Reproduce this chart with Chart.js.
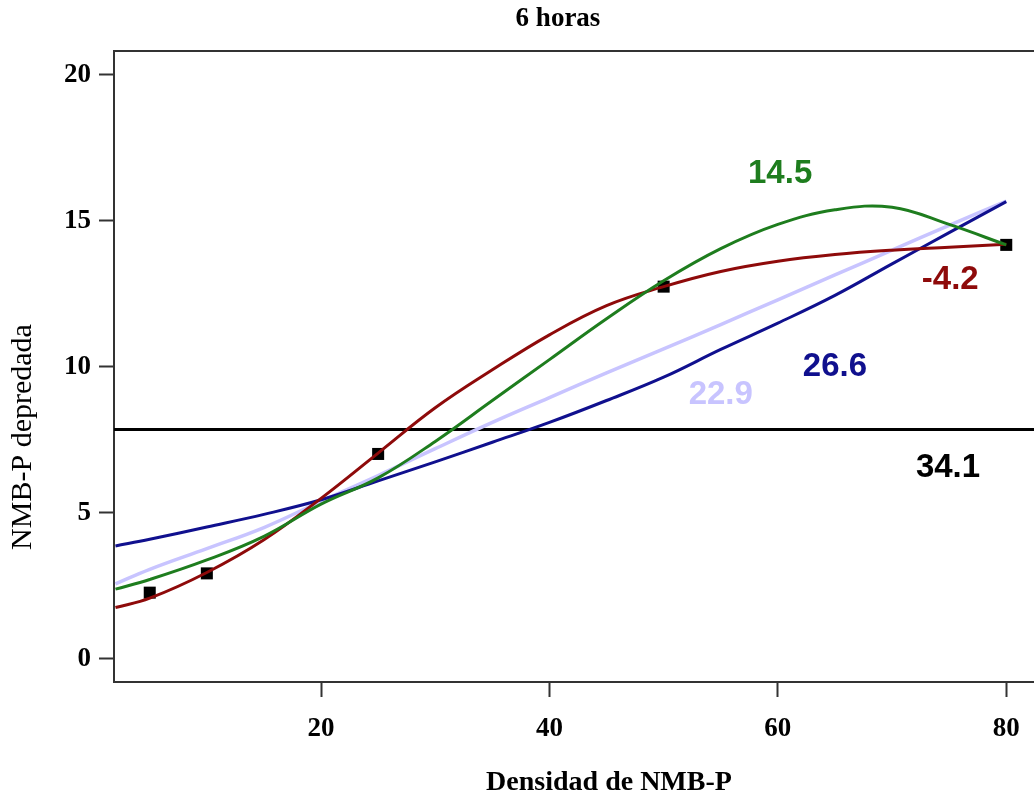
<!DOCTYPE html>
<html>
<head>
<meta charset="utf-8">
<script src="https://cdn.jsdelivr.net/npm/chart.js@4.4.1/dist/chart.umd.min.js"></script>
<style>
html,body{margin:0;padding:0;background:#fff;overflow:hidden}
canvas{display:block}
</style>
</head>
<body>
<canvas id="c" width="1034" height="799"></canvas>
<script>
// ---- data ----
const densidad    = [2, 5, 10, 15, 20, 25, 30, 35, 40, 45, 50, 55, 60, 65, 70, 75, 80];
const ajusteVerde = [2.39, 2.72, 3.39, 4.2, 5.3, 6.2, 7.45, 8.85, 10.25, 11.65, 12.95, 14.05, 14.88, 15.38, 15.47, 14.88, 14.18];
const ajusteRojo  = [1.76, 2.08, 2.96, 4.08, 5.5, 7.05, 8.6, 9.9, 11.1, 12.1, 12.75, 13.27, 13.62, 13.85, 14.0, 14.1, 14.2];
const ajusteAzul  = [3.87, 4.1, 4.52, 4.95, 5.45, 6.1, 6.75, 7.42, 8.1, 8.85, 9.65, 10.6, 11.5, 12.45, 13.53, 14.6, 15.66];
const ajusteLila  = [2.57, 3.07, 3.78, 4.5, 5.4, 6.28, 7.2, 8.1, 8.95, 9.8, 10.62, 11.45, 12.3, 13.15, 14.0, 14.85, 15.68];
const obsX = [5, 10, 25, 50, 80];
const obsY = [2.27, 2.93, 7.02, 12.75, 14.18];
const mediaY = 7.86;
const xTicks = [20, 40, 60, 80];
const yTicks = [0, 5, 10, 15, 20];
const etiquetas = ['14.5', '-4.2', '26.6', '22.9', '34.1'];
const titulo = '6 horas';
const tituloX = 'Densidad de NMB-P';
const tituloY = 'NMB-P depredada';

// ---- axis bounds ----
const X_MIN = 1.87, X_MAX = 82.43;
const Y_MIN = -0.79, Y_MAX = 20.82;

const pts = (xs, ys) => xs.map((x, i) => ({x: x, y: ys[i]}));
const SERIF = '"Liberation Serif", "Times New Roman", "DejaVu Serif", serif';
const SANS = '"Liberation Sans", Arial, "DejaVu Sans", sans-serif';

const C_GREEN = '#1e7d1e', C_RED = '#8e0a0a', C_BLUE = '#10108e', C_LILA = '#c8c4ff';

// label anchors in data coordinates
const labelStyle = [
  {x: 60.2, y: 16.61, color: C_GREEN},
  {x: 75.1, y: 12.98, color: C_RED},
  {x: 65.0, y: 9.99,  color: C_BLUE},
  {x: 55.0, y: 9.04,  color: C_LILA},
  {x: 74.9, y: 6.54,  color: '#000'}
];

const lineDs = (label, ys, color, w) => ({
  label: label, data: pts(densidad, ys), showLine: true, borderColor: color,
  borderWidth: w, pointRadius: 0, tension: 0.4, fill: false
});

const textLayer = {
  id: 'textLayer',
  afterDatasetsDraw(chart) {
    const {ctx, scales: {x, y}} = chart;
    ctx.save();
    ctx.font = 'bold 33px ' + SANS;
    ctx.textAlign = 'center';
    ctx.textBaseline = 'middle';
    etiquetas.forEach((t, i) => {
      const s = labelStyle[i];
      ctx.fillStyle = s.color;
      ctx.fillText(t, x.getPixelForValue(s.x), y.getPixelForValue(s.y));
    });
    ctx.restore();
  },
  afterDraw(chart) {
    const {ctx, chartArea} = chart;
    ctx.save();
    ctx.strokeStyle = '#333';
    ctx.lineWidth = 2;
    ctx.beginPath();
    ctx.moveTo(chartArea.left - 1, chartArea.top);
    ctx.lineTo(chartArea.right, chartArea.top);
    ctx.stroke();

    ctx.fillStyle = '#000';
    ctx.textAlign = 'center';
    ctx.textBaseline = 'middle';
    ctx.font = 'bold 27px ' + SERIF;
    ctx.fillText(titulo, 558, 19);
    ctx.font = 'bold 28px ' + SERIF;
    ctx.fillText(tituloX, 609, 783);
    ctx.translate(23, 437);
    ctx.rotate(-Math.PI / 2);
    ctx.font = '30px ' + SERIF;
    ctx.fillText(tituloY, 0, 0);
    ctx.restore();
  }
};

const tickFont = {family: SERIF, size: 27, weight: 'bold'};
const gridOpts = {drawOnChartArea: false, drawTicks: true, tickLength: 15, tickWidth: 2, tickColor: '#333'};
const borderOpts = {display: true, color: '#333', width: 2};

new Chart(document.getElementById('c'), {
  type: 'scatter',
  data: {
    datasets: [
      lineDs('verde', ajusteVerde, C_GREEN, 3),
      lineDs('rojo', ajusteRojo, C_RED, 3),
      lineDs('azul', ajusteAzul, C_BLUE, 3),
      lineDs('lila', ajusteLila, C_LILA, 3.5),
      {label: 'media', data: [{x: X_MIN, y: mediaY}, {x: X_MAX, y: mediaY}], showLine: true,
       borderColor: '#000', borderWidth: 3, pointRadius: 0, fill: false},
      {label: 'observado', data: pts(obsX, obsY), showLine: false, pointStyle: 'rect',
       pointRadius: 8.5, backgroundColor: '#000', borderColor: '#000', borderWidth: 0}
    ]
  },
  options: {
    responsive: false,
    animation: false,
    layout: {autoPadding: false, padding: {top: 51, left: 0, right: 0, bottom: 0}},
    plugins: {legend: {display: false}, title: {display: false}, tooltip: {enabled: false}},
    scales: {
      x: {
        type: 'linear', min: X_MIN, max: X_MAX,
        afterBuildTicks: s => { s.ticks = xTicks.map(v => ({value: v})); },
        afterFit: s => { s.height = 117; s.paddingLeft = 0; s.paddingRight = 0; },
        ticks: {font: tickFont, color: '#000', padding: 16, maxRotation: 0, autoSkip: false},
        grid: gridOpts, border: borderOpts
      },
      y: {
        type: 'linear', min: Y_MIN, max: Y_MAX,
        afterBuildTicks: s => { s.ticks = yTicks.map(v => ({value: v})); },
        afterFit: s => { s.width = 114; s.paddingTop = 0; s.paddingBottom = 0; },
        ticks: {font: tickFont, color: '#000', padding: 8, autoSkip: false},
        grid: gridOpts, border: borderOpts
      }
    }
  },
  plugins: [textLayer]
});
</script>
</body>
</html>
